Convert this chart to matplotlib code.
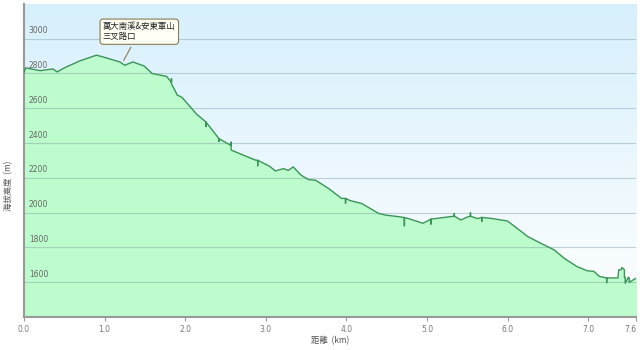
import numpy as np
import matplotlib
matplotlib.use("Agg")
import matplotlib.pyplot as plt

plt.rcParams['font.family'] = ['Noto Sans CJK TC', 'DejaVu Sans']

# -----------------------------
# Data
# -----------------------------
dist_km = [0.00, 0.02, 0.20, 0.36, 0.41, 0.51, 0.69, 0.90, 0.98, 1.19, 1.25, 1.35,
           1.49, 1.59, 1.77, 1.83, 1.83, 1.83, 1.89, 1.90, 1.96, 2.14, 2.26, 2.26,
           2.26, 2.42, 2.42, 2.42, 2.57, 2.57, 2.57, 2.73, 2.88, 2.90, 2.90, 2.90,
           3.04, 3.12, 3.22, 3.28, 3.34, 3.44, 3.53, 3.62, 3.78, 3.94, 3.99, 3.99,
           3.99, 4.05, 4.19, 4.40, 4.49, 4.65, 4.72, 4.72, 4.72, 4.80, 4.95, 5.05,
           5.05, 5.05, 5.34, 5.34, 5.34, 5.42, 5.50, 5.54, 5.54, 5.54, 5.62, 5.64,
           5.68, 5.68, 5.68, 5.80, 6.00, 6.12, 6.25, 6.41, 6.58, 6.70, 6.86, 6.99,
           7.07, 7.14, 7.23, 7.23, 7.23, 7.30, 7.37, 7.38, 7.41, 7.42, 7.45, 7.45,
           7.46, 7.46, 7.50, 7.51, 7.51, 7.60]
elev_m = [2805, 2832, 2816, 2826, 2809, 2834, 2872, 2905, 2895, 2866, 2847, 2866,
          2843, 2800, 2783, 2749, 2770, 2740, 2687, 2676, 2663, 2567, 2520, 2495,
          2520, 2425, 2410, 2425, 2386, 2405, 2360, 2329, 2301, 2301, 2270, 2301,
          2269, 2240, 2253, 2243, 2263, 2215, 2190, 2186, 2139, 2082, 2082, 2055,
          2082, 2069, 2053, 1996, 1986, 1977, 1972, 1925, 1972, 1962, 1939, 1963,
          1935, 1963, 1980, 1995, 1980, 1958, 1975, 1980, 1998, 1980, 1967, 1967,
          1973, 1950, 1973, 1967, 1952, 1910, 1863, 1825, 1786, 1739, 1691, 1666,
          1663, 1634, 1625, 1598, 1625, 1625, 1625, 1672, 1672, 1685, 1672, 1629,
          1629, 1595, 1629, 1625, 1600, 1625]

x_ticks = [0.0, 1.0, 2.0, 3.0, 4.0, 5.0, 6.0, 7.0, 7.6]
y_ticks = [1600, 1800, 2000, 2200, 2400, 2600, 2800, 3000]

note_text = "萬大南溪&安東軍山\n三叉路口"
note_km, note_elev = 1.22, 2860

# -----------------------------
# Figure
# -----------------------------
fig = plt.figure(figsize=(6.4, 3.5), dpi=100)
ax = fig.add_axes([0.0375, 0.094, 0.957, 0.895])
ax.set_xlim(0, 7.6)
ax.set_ylim(1400, 3200)

# background gradient: light blue at top fading to white
grad = np.linspace(0, 1, 256).reshape(-1, 1)
top = np.array([0.84, 0.94, 0.99])
bottom = np.array([1.0, 1.0, 1.0])
colors = top * (1 - grad[..., None]) + bottom * grad[..., None]
ax.imshow(colors, extent=[0, 7.6, 1400, 3200], aspect='auto', zorder=0,
          origin='upper')

ax.fill_between(dist_km, elev_m, 1400, color='#bdfccc', zorder=1, linewidth=0)
for v in y_ticks:
    ax.axhline(v, color='#7f9fa8', alpha=0.45, linewidth=0.8, zorder=2)
ax.plot(dist_km, elev_m, color='#3a9458', linewidth=1.0, zorder=3)

# y labels sit inside the plot, just above their gridlines
for v in y_ticks:
    ax.text(0.06, v + 20, str(v), fontsize=5.5, color='#666666',
            ha='left', va='bottom', zorder=4, family='DejaVu Sans')
ax.set_yticks([])

ax.set_xticks(x_ticks)
labels = ax.set_xticklabels([f"{t:.1f}" for t in x_ticks], fontsize=5.5,
                            color='#777777', family='DejaVu Sans')
labels[-1].set_horizontalalignment('right')
ax.tick_params(axis='x', length=3, width=0.8, color='#999999', pad=3)

for side in ['top', 'right']:
    ax.spines[side].set_visible(False)
for side in ['left', 'bottom']:
    ax.spines[side].set_color('#999999')
    ax.spines[side].set_linewidth(1.5)

ax.set_xlabel("距離  (km)", fontsize=6, color='#555555', labelpad=1)
fig.text(0.013, 0.47, "海拔高度  (m)", rotation=90, fontsize=6, color='#555555',
         ha='center', va='center')

ax.annotate(note_text, xy=(note_km, note_elev), xytext=(0.98, 3040),
            fontsize=6, color='#222222', ha='left', va='center', zorder=6,
            linespacing=1.2,
            bbox=dict(boxstyle='round,pad=0.35', fc='#fffff4', ec='#8a7a50', lw=0.8),
            arrowprops=dict(arrowstyle='-', color='#8a7a50', lw=0.8))

fig.savefig("out.png", dpi=100)
